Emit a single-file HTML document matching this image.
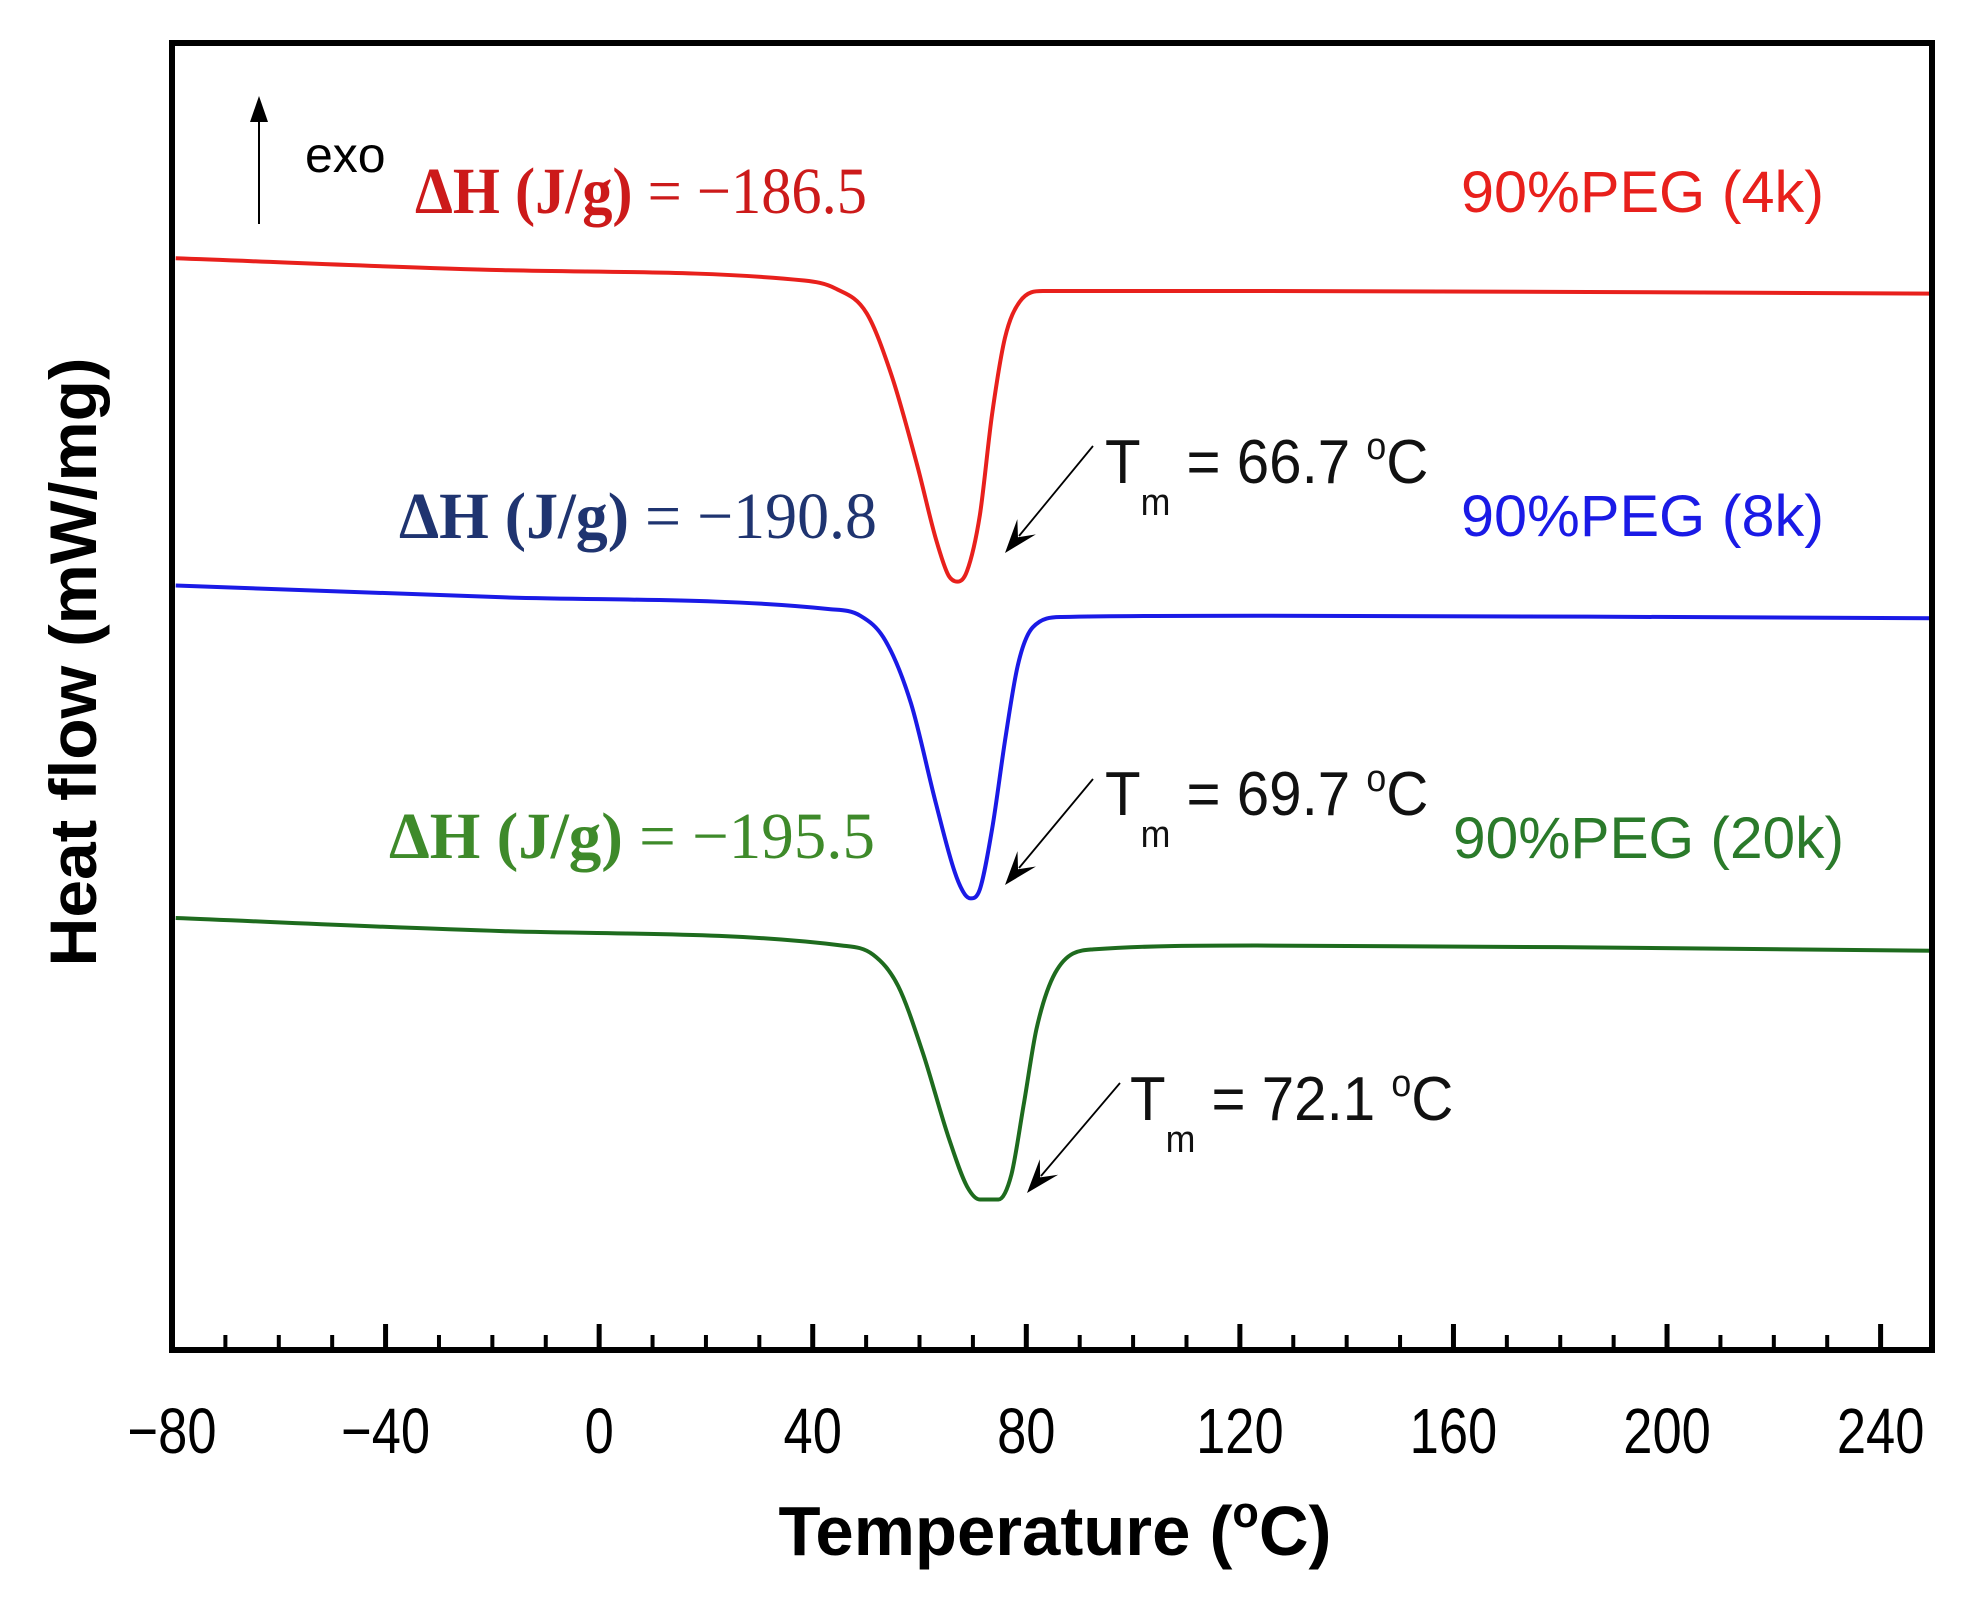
<!DOCTYPE html>
<html><head><meta charset="utf-8"><style>
html,body{margin:0;padding:0;background:#fff;}
svg{display:block;}
.ser{font-family:"Liberation Serif",serif;font-size:66px;}
.san{font-family:"Liberation Sans Narrow","Liberation Sans",sans-serif;}
</style></head><body>
<svg id="chart" width="1962" height="1597" viewBox="0 0 1962 1597" xmlns="http://www.w3.org/2000/svg">
<rect x="0" y="0" width="1962" height="1597" fill="#fff"/>
<g id="curves"></g>
<g id="ticks"></g>
<rect x="172" y="43" width="1760" height="1307" fill="none" stroke="#000" stroke-width="6"/>
<text class="san" x="1055" y="1555" text-anchor="middle" font-weight="bold" font-size="70" textLength="553" lengthAdjust="spacingAndGlyphs">Temperature (<tspan font-size="44" dy="-28">o</tspan><tspan dy="28">C)</tspan></text>
<text class="san" transform="translate(96,662) rotate(-90)" text-anchor="middle" font-weight="bold" font-size="66" textLength="609" lengthAdjust="spacingAndGlyphs">Heat flow (mW/mg)</text>
<g>
<line x1="259" y1="224" x2="259" y2="110" stroke="#000" stroke-width="2"/>
<polygon points="259,96 250,122 268,122" fill="#000"/>
<text class="san" x="305" y="172" font-size="50" fill="#000">exo</text>
</g>
<text class="ser" x="415" y="213" fill="#cc1a1a" textLength="452" lengthAdjust="spacingAndGlyphs"><tspan font-weight="bold">ΔH (J/g)</tspan> = −186.5</text>
<text class="ser" x="399" y="538" fill="#1f3470" textLength="478" lengthAdjust="spacingAndGlyphs"><tspan font-weight="bold">ΔH (J/g)</tspan> = −190.8</text>
<text class="ser" x="389" y="858" fill="#3e8a2a" textLength="486" lengthAdjust="spacingAndGlyphs"><tspan font-weight="bold">ΔH (J/g)</tspan> = −195.5</text>
<text class="san" x="1461" y="212" font-size="58" fill="#e8201c" textLength="363" lengthAdjust="spacingAndGlyphs">90%PEG (4k)</text>
<text class="san" x="1461" y="536" font-size="58" fill="#1a1ae6" textLength="363" lengthAdjust="spacingAndGlyphs">90%PEG (8k)</text>
<text class="san" x="1453" y="858" font-size="58" fill="#2a7a2a" textLength="391" lengthAdjust="spacingAndGlyphs">90%PEG (20k)</text>
<g id="tm"></g>
</svg>
<script>
const categories=["90%PEG (4k)","90%PEG (8k)","90%PEG (20k)"];
const tempTicks=[-80,-40,0,40,80,120,160,200,240];
const tickLabels=["−80","−40","0","40","80","120","160","200","240"];
const tempRed=[-79.3,-18.1,38.4,44.2,50.1,54.8,59.5,63.1,65.4,67.1,68.9,71.3,73.6,76.0,78.8,83.1,123.1,250];
const flowRed=[83.4,82.5,81.7,81.1,79.2,74.4,67.7,61.9,59.2,58.7,59.5,63.8,71.5,77.3,80.1,80.9,80.9,80.7];
const tempBlue=[-79.3,-18.1,43.1,48.9,53.6,58.4,63.1,66.6,68.5,69.6,71.3,73.6,76.0,78.4,81.2,86.6,123.1,250];
const flowBlue=[58.4,57.5,56.6,56.1,54.2,49.4,41.7,36.5,34.8,34.5,35.2,39.8,46.5,52.3,55.2,56.0,56.1,55.9];
const tempGreen=[-79.3,-18.1,45.4,51.3,56.0,60.7,65.4,68.9,71.3,74.8,77.2,79.5,81.9,85.4,92.5,123.1,250];
const flowGreen=[33.0,32.0,30.9,30.2,27.8,22.6,16.3,12.5,11.5,11.5,13.4,18.7,24.5,28.8,30.6,30.9,30.5];
const tmValues=["66.7","69.7","72.1"];
const NS="http://www.w3.org/2000/svg";
const X0=172,X1=1934,Y0=1350,Y1=41,TMIN=-80,TMAX=250;
function xs(t){return X0+(t-TMIN)/(TMAX-TMIN)*(X1-X0);}
function ys(v){return Y0-v/100*(Y0-Y1);}
function mk(tag,attrs,parent){const e=document.createElementNS(NS,tag);for(const k in attrs)e.setAttribute(k,attrs[k]);parent.appendChild(e);return e;}
function monotone(px){const n=px.length,d=[],m=[];
 for(let i=0;i<n-1;i++)d.push((px[i+1][1]-px[i][1])/(px[i+1][0]-px[i][0]));
 m[0]=d[0];m[n-1]=d[n-2];
 for(let i=1;i<n-1;i++){m[i]=(d[i-1]*d[i]<=0)?0:(d[i-1]+d[i])/2;}
 for(let i=0;i<n-1;i++){if(d[i]===0){m[i]=0;m[i+1]=0;continue;}const a=m[i]/d[i],b=m[i+1]/d[i],s=a*a+b*b;if(s>9){const t=3/Math.sqrt(s);m[i]=t*a*d[i];m[i+1]=t*b*d[i];}}
 let p="M"+px[0][0].toFixed(1)+","+px[0][1].toFixed(1);
 for(let i=0;i<n-1;i++){const h=(px[i+1][0]-px[i][0])/3;
 p+=" C"+(px[i][0]+h).toFixed(1)+","+(px[i][1]+m[i]*h).toFixed(1)+" "+(px[i+1][0]-h).toFixed(1)+","+(px[i+1][1]-m[i+1]*h).toFixed(1)+" "+px[i+1][0].toFixed(1)+","+px[i+1][1].toFixed(1);}
 return p;}
const cg=document.getElementById("curves");
const series=[[tempRed,flowRed,"#e8201c","curve-4k"],[tempBlue,flowBlue,"#1a1ae6","curve-8k"],[tempGreen,flowGreen,"#1e6b1e","curve-20k"]];
series.forEach(s=>{const px=s[0].map((t,i)=>[xs(t),ys(s[1][i])]);
 const p=mk("path",{d:monotone(px),fill:"none",stroke:s[2],"stroke-width":4},cg);
 
 });
const tg=document.getElementById("ticks");
for(let t=-70;t<=240;t+=10){const major=(t%40===0);
 const l=mk("line",{x1:xs(t),x2:xs(t),y1:Y0,y2:Y0-(major?26:15),stroke:"#000","stroke-width":major?5:4},tg);
 
 }
tempTicks.forEach((t,i)=>{const tx=mk("text",{transform:`translate(${xs(t)},1453) scale(0.82,1)`,"text-anchor":"middle","font-size":64,"font-family":"Liberation Sans Narrow, Liberation Sans, sans-serif"},tg);
 tx.textContent=tickLabels[i];
 
 });
const tmg=document.getElementById("tm");
const tmPos=[[1105,483,1093,446,1005,553],[1105,815,1093,779,1005,885],[1130,1120,1120,1083,1027,1193]];
tmPos.forEach((p,i)=>{
 const g=mk("g",{},tmg);
 
 
 const t=mk("text",{transform:`translate(${p[0]},${p[1]}) scale(0.94,1)`,"font-size":62,"font-family":"Liberation Sans, sans-serif",fill:"#111"},g);
 t.innerHTML='T<tspan font-size="38" dy="32">m</tspan><tspan dy="-32"> = '+tmValues[i]+' </tspan><tspan font-size="38" dy="-24">o</tspan><tspan dy="24">C</tspan>';
 mk("line",{x1:p[2],y1:p[3],x2:p[4]+14,y2:p[5]-17,stroke:"#000","stroke-width":1.8},g);
 const ang=Math.atan2(p[5]-p[3],p[4]-p[2]);
 const L=34,W=12;const bx=p[4]-L*Math.cos(ang),by=p[5]-L*Math.sin(ang);
 const nx=-Math.sin(ang)*W,ny=Math.cos(ang)*W;
 const mx=p[4]-L*0.6*Math.cos(ang),my=p[5]-L*0.6*Math.sin(ang);
 mk("polygon",{points:`${p[4]},${p[5]} ${bx+nx},${by+ny} ${mx},${my} ${bx-nx},${by-ny}`,fill:"#000"},g);
});
</script>
</body></html>
